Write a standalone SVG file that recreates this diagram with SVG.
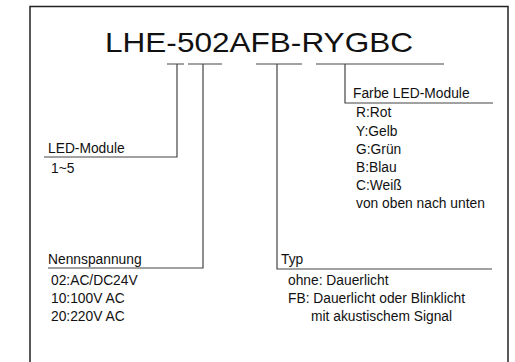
<svg xmlns="http://www.w3.org/2000/svg" width="515" height="362" viewBox="0 0 515 362">
<style>
.t{font-family:"Liberation Sans",Arial,sans-serif;font-size:13.8px;fill:#111}
.ln{fill:none;stroke:#444;stroke-width:1.2}
.bd{fill:none;stroke:#222;stroke-width:1.5}
</style>
<rect width="515" height="362" fill="#fff"/>
<path class="bd" d="M30,370 V6.5 H508 V370"/>
<g id="title"><text class="t" x="105" y="52" style="font-size:28px" textLength="308" lengthAdjust="spacingAndGlyphs">LHE-502AFB-RYGBC</text></g>
<g id="connectors">
<path class="ln" d="M167,64 H184 M188,64 H222 M256,64 H302 M316,64 H444"/>
<path class="ln" d="M177,64 V157 H44"/>
<path class="ln" d="M203,64 V268 H48"/>
<path class="ln" d="M277,64 V269 H492"/>
<path class="ln" d="M345,64 V103 H493"/>
</g>
<g id="led-module">
<text class="t" x="48" y="153">LED-Module</text>
<text class="t" x="51" y="173">1~5</text>
</g>
<g id="farbe">
<text class="t" x="353" y="98">Farbe LED-Module</text>
<text class="t" x="356" y="117">R:Rot</text>
<text class="t" x="356" y="136">Y:Gelb</text>
<text class="t" x="356" y="154">G:Grün</text>
<text class="t" x="356" y="172">B:Blau</text>
<text class="t" x="356" y="190">C:Weiß</text>
<text class="t" x="356" y="208">von oben nach unten</text>
</g>
<g id="nennspannung">
<text class="t" x="48" y="264">Nennspannung</text>
<text class="t" x="51" y="285">02:AC/DC24V</text>
<text class="t" x="51" y="303">10:100V AC</text>
<text class="t" x="51" y="321">20:220V AC</text>
</g>
<g id="typ">
<text class="t" x="281" y="264">Typ</text>
<text class="t" x="288" y="285">ohne: Dauerlicht</text>
<text class="t" x="288" y="303">FB: Dauerlicht oder Blinklicht</text>
<text class="t" x="311" y="321">mit akustischem Signal</text>
</g>
</svg>
